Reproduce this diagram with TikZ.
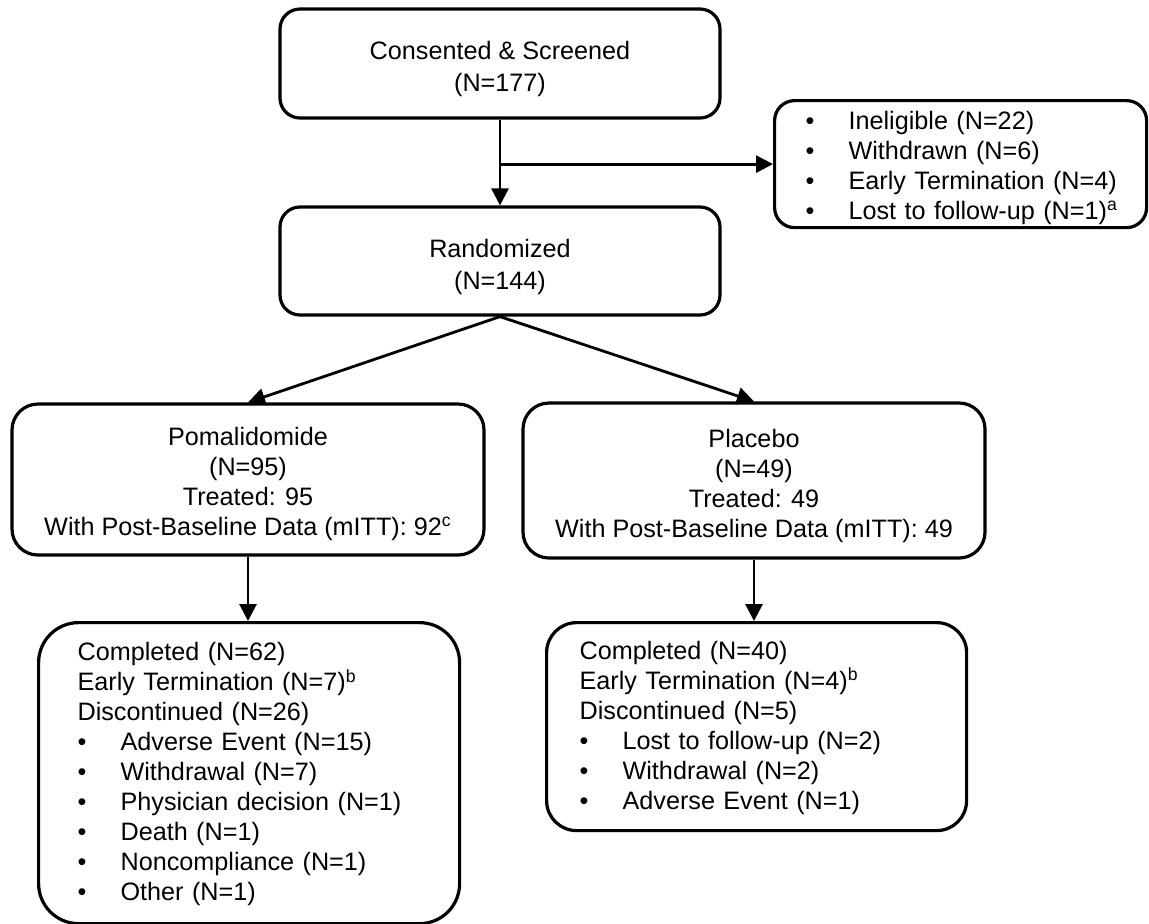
\documentclass[tikz,border=0pt]{standalone}
\usepackage{fontspec}
\setmainfont{Liberation Sans}
\usetikzlibrary{arrows.meta}
\newcommand{\bul}{\makebox[21.5pt][l]{•}}
\newcommand{\li}[1]{\mbox{\bul #1}}
\newcommand{\lift}[1]{\rule{0pt}{#1}}
\begin{document}
\begin{tikzpicture}[x=0.5pt,y=-0.5pt,
 box/.style={draw, line width=1.6pt, rounded corners=10pt, align=center, inner sep=0pt, font=\fontsize{12.6}{16}\selectfont},
 armbox/.style={box, rounded corners=13pt, font=\fontsize{12.6}{15}\selectfont},
 listbox/.style={draw, line width=1.6pt, align=left, inner ysep=0pt, anchor=north west, font=\fontsize{12.6}{15}\selectfont},
 arr/.style={line width=1.4pt, -{Triangle[length=8.5pt,width=8.5pt]}},
]
\useasboundingbox (0,0) rectangle (1149,923);
\node[box, minimum width=220pt, minimum height=54.5pt] (cons) at (500,63.5) {\lift{14.7pt}Consented \& Screened\\(N=177)};
\node[box, minimum width=220pt, minimum height=54pt] (rand) at (500,261) {\lift{15.2pt}Randomized\\(N=144)};
\node[listbox, rounded corners=10pt, inner xsep=15.5pt, text width=155pt, minimum height=63.5pt] (inel) at (773,99)
 {\lift{12.7pt}\li{Ineligible (N=22)}\\\li{Withdrawn (N=6)}\\\li{Early Termination (N=4)}\\\li{Lost to follow-up (N=1)\textsuperscript{a}}};
\node[armbox, minimum width=236pt, minimum height=75.5pt] (pom) at (248,479.5)
 {\lift{13.2pt}Pomalidomide\\(N=95)\\Treated: 95\\With Post-Baseline Data (mITT): 92\textsuperscript{c}};
\node[armbox, minimum width=231pt, minimum height=77.5pt] (plac) at (754,480.5)
 {\lift{14.2pt}Placebo\\(N=49)\\Treated: 49\\With Post-Baseline Data (mITT): 49};
\node[listbox, rounded corners=20pt, inner xsep=19.5pt, text width=171.5pt, minimum height=150.5pt] (pomout) at (37,621)
 {\lift{10.2pt}Completed (N=62)\\Early Termination (N=7)\textsuperscript{b}\\Discontinued (N=26)\\\li{Adverse Event (N=15)}\\\li{Withdrawal (N=7)}\\\li{Physician decision (N=1)}\\\li{Death (N=1)}\\\li{Noncompliance (N=1)}\\\li{Other (N=1)}};
\node[listbox, rounded corners=15pt, inner xsep=16.5pt, text width=177pt, minimum height=104pt] (placout) at (545,621)
 {\lift{10.2pt}Completed (N=40)\\Early Termination (N=4)\textsuperscript{b}\\Discontinued (N=5)\\\li{Lost to follow-up (N=2)}\\\li{Withdrawal (N=2)}\\\li{Adverse Event (N=1)}};
\coordinate (br) at (cons.south |- inel.west);
\draw[arr] (cons.south) -- (rand.north);
\draw[arr] (br) -- (inel.west);
\draw[arr] (rand.south) -- (pom.north);
\draw[arr] (rand.south) -- (plac.north);
\draw[arr] (pom.south) -- (pom.south |- pomout.north);
\draw[arr] (plac.south) -- (plac.south |- placout.north);
\end{tikzpicture}
\end{document}
